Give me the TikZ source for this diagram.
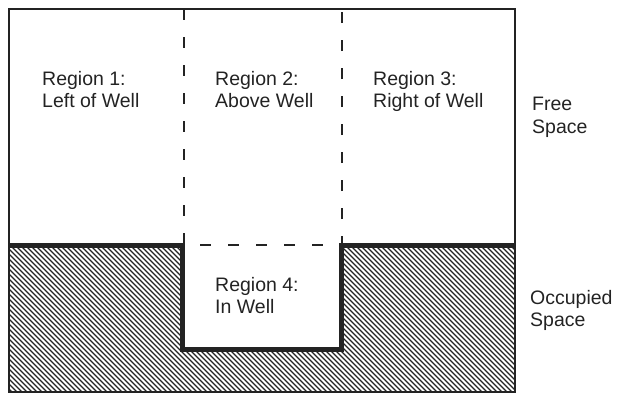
\documentclass[tikz,border=0pt]{standalone}
\usepackage{fontspec}
\setmainfont{Liberation Sans}
\usepackage{tikz}
\definecolor{ink}{RGB}{35, 35, 35}

\tikzset{
  region/.style={anchor=north west,inner sep=0pt,align=left,text=ink,
    font=\fontsize{19.5}{22.5}\selectfont},
  wall/.style={draw=ink,line width=5pt},
  border/.style={draw=ink,line width=1.3pt},
  dashline/.style={draw=ink,line width=1.3pt,dash pattern=on 11pt off 17pt},
  hatch/.style={draw=ink,line width=1.2pt}
}

\begin{document}
\begin{tikzpicture}[x=1pt,y=-1pt]
\useasboundingbox (0,0) rectangle (622,400);
  % occupied space, hatched
  \begin{scope}
    \clip (9,245) -- (182,245) -- (182,349) -- (341,349) -- (341,245)
      -- (515,245) -- (515,392) -- (9,392) -- cycle;
    \foreach \i in {-160,-155,...,520}
      \draw[hatch] (\i,240) -- ++(160,160);
  \end{scope}
  % outline and regions
  \draw[border] (9,9) rectangle (515,392);
  \draw[dashline] (184,9) -- (184,245) -- (342,245) -- (342,9);
  \draw[wall] (9,245) -- (182,245) -- (182,349) -- (341,349) -- (341,245) -- (515,245);
  % labels
  \node[region] (r1) at (42,71) {Region 1:\\Left of Well};
  \node[region] (r2) at (215,71) {Region 2:\\Above Well};
  \node[region] (r3) at (373,71) {Region 3:\\Right of Well};
  \node[region] (r4) at (215,277) {Region 4:\\In Well};
  \node[region] (free) at (532,97) {Free\\Space};
  \node[region] (occ) at (530,290) {Occupied\\Space};
\end{tikzpicture}
\end{document}
